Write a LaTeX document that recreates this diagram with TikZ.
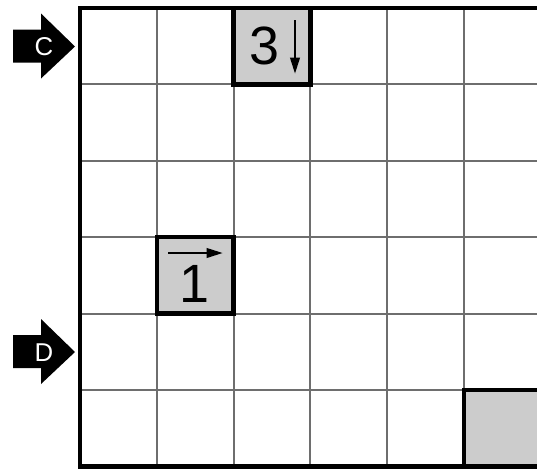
\documentclass[tikz,border=0pt]{standalone}
\usepackage{fontspec}
\setsansfont{Liberation Sans}
\usetikzlibrary{arrows.meta}
\definecolor{Shade}{HTML}{CCCCCC}
\definecolor{GridGray}{HTML}{6E6E6E}
\tikzset{
  thinline/.style={draw=GridGray, line width=1.6pt},
  border/.style={draw=black, line width=3.8pt},
  givencell/.style={fill=Shade, draw=black, line width=3.8pt},
  digit/.style={font=\sffamily\fontsize{46}{46}\selectfont, inner sep=0pt},
  entry/.style={fill=black},
  entrylabel/.style={text=white, font=\sffamily\fontsize{22}{22}\selectfont, inner sep=0pt},
  hint/.style={-{Triangle[length=14pt,width=8pt]}, line width=2.3pt}
}

\begin{document}
\begin{tikzpicture}[x=0.03cm,y=-0.03cm]
  \useasboundingbox (0,0) rectangle (537,468);
  \clip (0,0) rectangle (537,468);
  % shaded cells
  \fill[Shade] (233.6,8) rectangle (310.4,84.4);
  \fill[Shade] (156.8,237.2) rectangle (233.6,313.6);
  \fill[Shade] (464,390) rectangle (540.8,466.4);
  % grid
  \foreach \i in {1,...,5} {
    \draw[thinline] ({80+76.8*\i},8) -- ({80+76.8*\i},466.4);
    \draw[thinline] (80,{8+76.4*\i}) -- (540.8,{8+76.4*\i});
  }
  \draw[border] (80,8) rectangle (540.8,466.4);
  \draw[givencell] (233.6,8) rectangle (310.4,84.4);
  \draw[givencell] (156.8,237.2) rectangle (233.6,313.6);
  \draw[givencell] (464,390) rectangle (540.8,466.4);
  % clues
  \node[digit] (three) at (264,46) {3};
  \coordinate (downA) at (295,20);
  \coordinate (downB) at (295,74);
  \draw[hint] (downA) -- (downB);
  \node[digit] (one) at (194,284) {1};
  \coordinate (rightA) at (168,253);
  \coordinate (rightB) at (223,253);
  \draw[hint] (rightA) -- (rightB);
  % entry arrows
  \foreach \cy/\lab in {46.5/C,352/D} {
    \fill[entry] (13,\cy-17) -- (41,\cy-17) -- (41,\cy-33) -- (75,\cy)
      -- (41,\cy+32) -- (41,\cy+16) -- (13,\cy+16) -- cycle;
    \node[entrylabel] (entry\lab) at (44,\cy+0.5) {\lab};
  }
\end{tikzpicture}
\end{document}
